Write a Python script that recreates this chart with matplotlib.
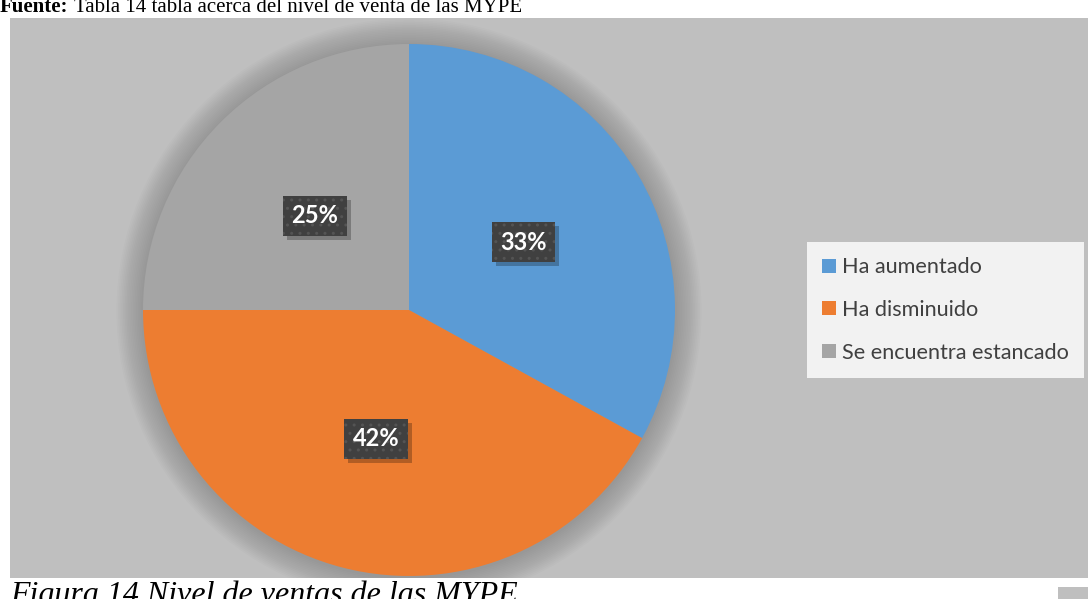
import matplotlib.pyplot as plt
import matplotlib.transforms as mtransforms
from matplotlib.patches import Rectangle, Circle

# data
categories = ["Ha aumentado", "Ha disminuido", "Se encuentra estancado"]
percentages = [33, 42, 25]
colors = ["#5B9BD5", "#ED7D31", "#A5A5A5"]
source_bold = "Fuente:"
source_rest = "Tabla 14 tabla acerca del nivel de venta de las MYPE"
caption_text = "Figura 14 Nivel de ventas de las MYPE"

W, H = 1088, 599
fig = plt.figure(figsize=(W / 100, H / 100), dpi=100)
fig.patch.set_facecolor("white")


def box(x0, y0, x1, y1):
    """pixel box (top-left origin) -> figure fraction rect"""
    return [x0 / W, 1 - y1 / H, (x1 - x0) / W, (y1 - y0) / H]


def add_rect(x0, y0, x1, y1, color):
    l, b, w, h = box(x0, y0, x1, y1)
    rect = Rectangle((l, b), w, h, transform=fig.transFigure,
                     fc=color, ec="none", zorder=-1)
    fig.patches.append(rect)
    return rect


# gray chart panel, white caption strip below it
panel = add_rect(10, 18, W, 578, "#BFBFBF")
add_rect(1058, 587, W, H, "#BFBFBF")

# pie axes
ax = fig.add_axes(box(143, 44, 675, 576))

# soft shadow around the pie, kept inside the panel
n = 16
for i in range(n):
    r = 1.0 + 0.1 * (1 - i / n)
    c = Circle((0, -0.004), r, fc="black", ec="none", alpha=0.011, zorder=0)
    ax.add_patch(c)
    c.set_clip_path(panel)

wedges, texts, autotexts = ax.pie(
    percentages, colors=colors, startangle=90, counterclock=False,
    radius=1, autopct="%1.0f%%", pctdistance=0.5,
    wedgeprops=dict(linewidth=0),
    textprops=dict(color="white", fontsize=17, fontweight="bold", family="Lato"))
ax.set_xlim(-1, 1)
ax.set_ylim(-1, 1)
ax.axis("off")

shadow_off = mtransforms.offset_copy(ax.transData, fig=fig, x=4, y=-4, units="dots")
for t in autotexts:
    t.set_bbox(dict(boxstyle="square,pad=0.36", fc="#404040", ec="#545454",
                    lw=0, hatch=".."))
    t.set_zorder(5)
    x, y = t.get_position()
    ax.text(x, y, t.get_text(), transform=shadow_off, ha="center", va="center",
            color="none", fontsize=17, fontweight="bold", family="Lato", zorder=4,
            bbox=dict(boxstyle="square,pad=0.36", fc="black", ec="none", alpha=0.25))

leg = fig.legend(wedges, categories, loc="upper left",
                 bbox_to_anchor=(807 / W, 1 - 242 / H),
                 frameon=True, fancybox=False, facecolor="#F2F2F2",
                 edgecolor="none", framealpha=1, handlelength=0.62,
                 handleheight=0.62, handletextpad=0.3, labelspacing=1.05,
                 borderpad=0.7, borderaxespad=0,
                 prop=dict(family="Lato", size=15.6))
for txt in leg.get_texts():
    txt.set_color("#404040")

# partially visible source line at the top and caption at the bottom
renderer = fig.canvas.get_renderer()
t1 = fig.text(0, 1 - 12 / H, source_bold, va="baseline", ha="left",
              family="Liberation Serif", fontweight="bold", fontsize=15)
bb = t1.get_window_extent(renderer)
fig.text((bb.x1 + 5) / W, 1 - 12 / H, source_rest, va="baseline", ha="left",
         family="Liberation Serif", fontsize=15)

fig.text(10 / W, 1 - 580 / H, caption_text, va="top", ha="left",
         family="Liberation Serif", style="italic", fontsize=23)

fig.savefig("out.png", dpi=100, facecolor="white")
